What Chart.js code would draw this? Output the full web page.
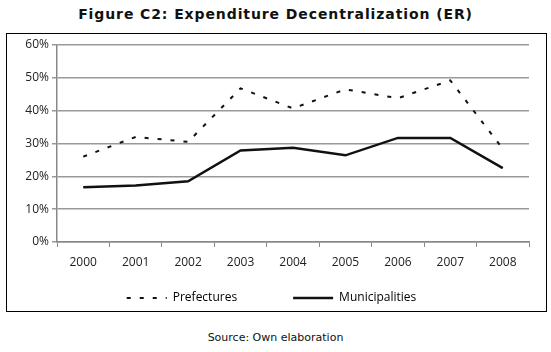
<!DOCTYPE html>
<html>
<head>
<meta charset="utf-8">
<script src="https://cdn.jsdelivr.net/npm/chart.js@4"></script>
<style>
  body { margin: 0; background: #fff; width: 551px; height: 352px; position: relative; overflow: hidden; }
  #title { position: absolute; top: 6px; left: 0; width: 551px; text-align: center;
    font-family: 'DejaVu Sans', sans-serif; font-weight: bold; font-size: 14px; letter-spacing: 0.9px; color: #111; }
  #box { position: absolute; left: 6px; top: 33px; width: 539px; height: 277px; border: 1px solid #000; }
  #source { position: absolute; top: 331px; left: 0; width: 551px; text-align: center;
    font-family: 'DejaVu Sans', sans-serif; font-size: 11px; color: #111; }
</style>
</head>
<body>
<div id="title">Figure C2: Expenditure Decentralization (ER)</div>
<div id="box"><canvas id="erChart"></canvas></div>
<div id="source">Source: Own elaboration</div>
<script>
const years = ['2000', '2001', '2002', '2003', '2004', '2005', '2006', '2007', '2008'];
const prefectures = [26, 32, 30.5, 46.8, 40.7, 46.5, 43.8, 49.2, 28.4];
const municipalities = [16.7, 17.2, 18.5, 27.9, 28.7, 26.4, 31.7, 31.7, 22.5];
const yTicks = [0, 10, 20, 30, 40, 50, 60];

const ctx = document.getElementById('erChart').getContext('2d');
ctx.canvas.width = 539;
ctx.canvas.height = 277;

const axisFont = { family: "'Open Sans', sans-serif", size: 12 };

const erChart = new Chart(ctx, {
  type: 'line',
  data: {
    labels: years,
    datasets: [{
      label: 'Prefectures',
      data: prefectures,
      borderColor: '#111',
      borderWidth: 2,
      borderDash: [4, 9],
      pointRadius: 0,
      tension: 0
    }, {
      label: 'Municipalities',
      data: municipalities,
      borderColor: '#111',
      borderWidth: 2.5,
      pointRadius: 0,
      tension: 0
    }]
  },
  options: {
    responsive: false,
    animation: false,
    layout: { padding: { left: 7, right: 17, top: 11, bottom: -3 } },
    scales: {
      x: {
        offset: true,
        grid: { offset: true, drawOnChartArea: false, color: '#888', tickLength: 5 },
        border: { color: '#888', width: 1.5 },
        ticks: { color: '#222', font: axisFont, padding: 8, maxRotation: 0 },
        afterFit: (s) => { s.height = 42; }
      },
      y: {
        min: 0,
        max: 60,
        afterBuildTicks: (s) => { s.ticks = yTicks.map(v => ({ value: v })); },
        grid: { color: '#999', lineWidth: 1.5, tickLength: 5 },
        border: { color: '#888', width: 1.5 },
        ticks: { color: '#222', font: axisFont, padding: 3, callback: (v) => v + '%' },
        afterFit: (s) => { s.width = 43; }
      }
    },
    plugins: {
      legend: {
        position: 'bottom',
        labels: {
          color: '#222',
          font: axisFont,
          padding: 8,
          boxWidth: 40,
          usePointStyle: true,
          pointStyleWidth: 40,
          generateLabels: (chart) => chart.data.datasets.map((ds, i) => ({
            text: i === 0 ? ds.label + '\u2003\u2003\u2003\u2003' : ds.label,
            fillStyle: ds.borderColor,
            strokeStyle: ds.borderColor,
            lineWidth: ds.borderWidth,
            lineDash: ds.borderDash || [],
            pointStyle: 'line',
            datasetIndex: i
          }))
        }
      },
      tooltip: { enabled: false }
    }
  }
});
</script>
</body>
</html>
